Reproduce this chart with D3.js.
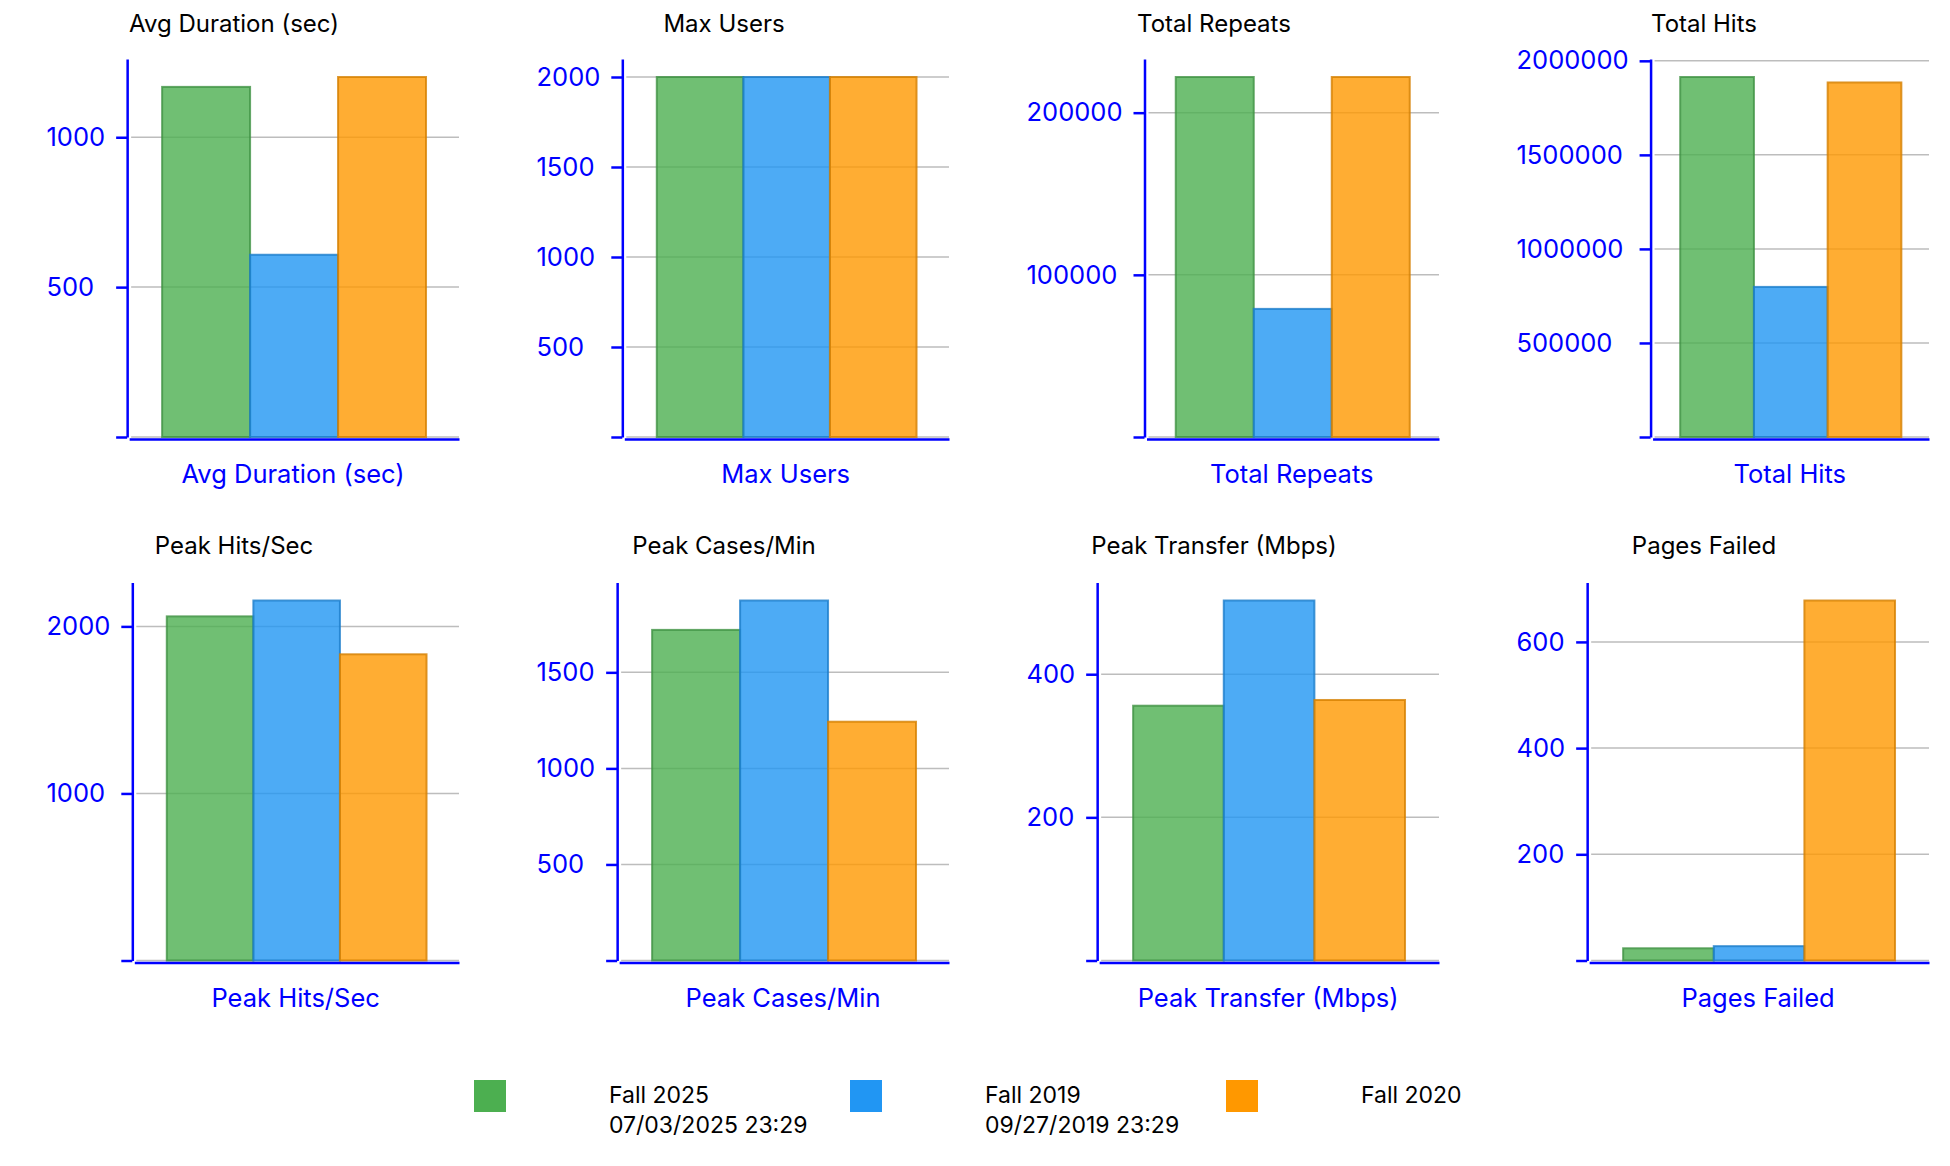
<!DOCTYPE html>
<html>
<head>
<meta charset="utf-8">
<script src="https://cdn.jsdelivr.net/npm/d3@7"></script>
<style>
  body { margin: 0; background: #fff; }
  text { font-family: Inter, "Noto Sans", sans-serif; }
</style>
</head>
<body>
<div id="chart"></div>
<script>
// metrics shown, one small chart each
var metrics = ["Avg Duration (sec)", "Max Users", "Total Repeats", "Total Hits",
  "Peak Hits/Sec", "Peak Cases/Min", "Peak Transfer (Mbps)", "Pages Failed"];

// runs compared
var seriesNames = ["Fall 2025", "Fall 2019", "Fall 2020"];
var seriesDates = ["07/03/2025 23:29", "09/27/2019 23:29", ""];
var seriesColors = ["#4CAF50", "#2196F3", "#FF9800"];

// values per metric (same order as metrics)
var fall2025 = [1168, 2000, 222000, 1914000, 2060, 1721, 356, 23];
var fall2019 = [608, 2000, 79000, 798000, 2155, 1874, 503, 27];
var fall2020 = [1201, 2000, 222000, 1885000, 1833, 1243, 364, 678];

// y tick values per metric
var yTicks = [
  [0, 500, 1000],
  [0, 500, 1000, 1500, 2000],
  [0, 100000, 200000],
  [0, 500000, 1000000, 1500000, 2000000],
  [0, 1000, 2000],
  [0, 500, 1000, 1500],
  [0, 200, 400],
  [0, 200, 400, 600]
];

var svgWidth = 1950;
var svgHeight = 1166;
var panelWidth = 490;
var panelHeight = 523.5;
var blue = "#0000ff";
var tickFont = 25.5;

var svg = d3.select("#chart")
  .append("svg")
  .attr("width", svgWidth)
  .attr("height", svgHeight);

var fmt = function(d) { return d === 0 ? "" : d3.format("d")(d); };

metrics.forEach(function(metric, i) {
  var col = i % 4;
  var row = Math.floor(i / 4);
  var values = [fall2025[i], fall2019[i], fall2020[i]];

  var panel = svg.append("g")
    .attr("transform", `translate(${col * panelWidth}, ${row * panelHeight})`);

  // widest tick label decides where the axis goes
  var probe = panel.append("text").attr("font-size", tickFont);
  var maxW = d3.max(yTicks[i], function(t) {
    probe.text(fmt(t));
    return probe.node().getComputedTextLength();
  });
  probe.remove();

  var labelX = 46.5;
  var left = labelX + maxW + 22;
  var right = 459;
  var top = 59;
  var bottom = 437;

  var y = d3.scaleLinear()
    .domain([0, d3.max(values) * 1.05])
    .range([bottom, top]);

  var x0 = d3.scaleBand()
    .domain([metric])
    .range([left + 2, right])
    .padding(1 / 9);

  var x1 = d3.scaleBand()
    .domain(seriesNames)
    .range([0, x0.bandwidth()]);

  // title
  panel.append("text")
    .attr("x", 234)
    .attr("y", 32 - row * 2)
    .attr("text-anchor", "middle")
    .attr("font-size", 24)
    .attr("fill", "#000")
    .text(metric);

  // grid lines
  panel.append("g")
    .selectAll("line")
    .data(yTicks[i])
    .join("line")
    .attr("x1", left + 4)
    .attr("x2", right)
    .attr("y1", d => y(d))
    .attr("y2", d => y(d))
    .attr("stroke", "#bdbdbd")
    .attr("stroke-width", 1.5);

  // bars
  panel.append("g")
    .selectAll("rect")
    .data(values)
    .join("rect")
    .attr("x", (d, k) => x0(metric) + x1(seriesNames[k]))
    .attr("y", d => y(d))
    .attr("width", x1.bandwidth())
    .attr("height", d => bottom - y(d))
    .attr("fill", (d, k) => seriesColors[k])
    .attr("fill-opacity", 0.8)
    .attr("stroke", (d, k) => d3.color(seriesColors[k]).darker(0.5))
    .attr("stroke-opacity", 0.8)
    .attr("stroke-width", 2);

  // y axis
  var yAxis = panel.append("g")
    .attr("transform", `translate(${left}, 0)`)
    .call(d3.axisLeft(y).tickValues(yTicks[i]).tickSize(11).tickSizeOuter(0).tickFormat(fmt));
  yAxis.select(".domain").attr("stroke", blue).attr("stroke-width", 2.5);
  yAxis.selectAll(".tick line").attr("stroke", blue).attr("stroke-width", 2.5);
  yAxis.selectAll(".tick text")
    .attr("x", labelX - left)
    .attr("text-anchor", "start")
    .attr("fill", blue)
    .attr("font-size", tickFont)
    .attr("font-family", "Inter, 'Noto Sans', sans-serif");

  // x axis: just the line, no ticks
  var xAxis = panel.append("g")
    .attr("transform", `translate(0, ${bottom + 2})`)
    .call(d3.axisBottom(x0).tickSize(0).tickSizeOuter(0).tickFormat(""));
  xAxis.select(".domain").attr("stroke", blue).attr("stroke-width", 2.5);

  // x label
  panel.append("text")
    .attr("x", (left + right) / 2)
    .attr("y", 483)
    .attr("text-anchor", "middle")
    .attr("font-size", 25.5)
    .attr("fill", blue)
    .text(metric);
});

// legend
var legend = svg.append("g").attr("transform", "translate(474, 1080)");
seriesNames.forEach(function(name, k) {
  var item = legend.append("g").attr("transform", `translate(${k * 376}, 0)`);
  item.append("rect")
    .attr("width", 32)
    .attr("height", 32)
    .attr("fill", seriesColors[k]);
  var label = item.append("text")
    .attr("font-size", 23)
    .attr("fill", "#000");
  label.append("tspan").attr("x", 135).attr("y", 23).text(name);
  if (seriesDates[k]) {
    label.append("tspan").attr("x", 135).attr("y", 53).text(seriesDates[k]);
  }
});
</script>
</body>
</html>
